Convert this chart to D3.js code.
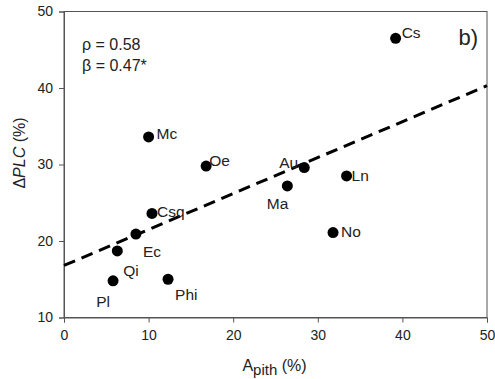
<!DOCTYPE html>
<html>
<head>
<meta charset="utf-8">
<script src="https://cdn.jsdelivr.net/npm/d3@7"></script>
<style>
    body { margin: 0; background: #fff; }
    text { font-family: "Liberation Sans", Arial, sans-serif; fill: #222; }
</style>
</head>
<body>
<div id="chart"></div>
<script>
// species codes and their values
var species = ["Cs", "Mc", "Oe", "Au", "Ma", "Ln", "No", "Csq", "Ec", "Qi", "Pl", "Phi"];
var apith = [39.2, 10.0, 16.8, 28.4, 26.4, 33.4, 31.8, 10.4, 8.5, 6.3, 5.8, 12.3];
var dplc = [46.5, 33.6, 29.8, 29.6, 27.2, 28.5, 21.1, 23.6, 20.9, 18.7, 14.8, 15.0];

var xTicks = [0, 10, 20, 30, 40, 50];
var yTicks = [10, 20, 30, 40, 50];

// regression line
var intercept = 16.8, slope = 0.47;

// where each label goes relative to its point
var labelPos = {
    Cs: [6, -6, "start"], Mc: [8, -3, "start"], Oe: [3, -5, "start"], Au: [-6, -5, "end"],
    Ma: [1, 18, "end"], Ln: [5, 0, "start"], No: [8, -1, "start"], Csq: [5, -2, "start"],
    Ec: [7, 17, "start"], Qi: [6, 20, "start"], Pl: [-3, 21, "end"], Phi: [7, 15, "start"]
};

var margin = { top: 11.5, right: 8, bottom: 61.5, left: 64 },
    width = 495 - margin.left - margin.right,
    height = 379 - margin.top - margin.bottom;

var svg = d3.select("#chart").append("svg")
    .attr("width", 495)
    .attr("height", 379)
    .append("g")
    .attr("transform", "translate(" + margin.left + "," + margin.top + ")");

var x = d3.scaleLinear().domain([0, 50]).range([0, width]);
var y = d3.scaleLinear().domain([10, 50]).range([height, 0]);

// box
svg.append("rect")
    .attr("width", width)
    .attr("height", height)
    .attr("fill", "none")
    .attr("stroke", "#555")
    .attr("stroke-width", 1);

var xAxis = svg.append("g")
    .attr("transform", "translate(0," + height + ")")
    .call(d3.axisBottom(x).tickValues(xTicks).tickSize(5).tickPadding(8));

var yAxis = svg.append("g")
    .call(d3.axisLeft(y).tickValues(yTicks).tickSize(5).tickPadding(6));

[xAxis, yAxis].forEach(function (a) {
    a.selectAll("path, line").attr("stroke", "#555");
    a.selectAll("text").attr("font-size", 14).attr("fill", "#222")
        .attr("font-family", "Liberation Sans, Arial, sans-serif");
});

// regression line
svg.append("line")
    .attr("x1", x(0)).attr("y1", y(intercept))
    .attr("x2", x(50)).attr("y2", y(intercept + slope * 50))
    .attr("stroke", "#000")
    .attr("stroke-width", 3)
    .attr("stroke-dasharray", "12,7");

var data = species.map(function (s, i) { return { name: s, x: apith[i], y: dplc[i] }; });

svg.selectAll("circle.pt")
    .data(data)
    .enter().append("circle")
    .attr("class", "pt")
    .attr("cx", function (d) { return x(d.x); })
    .attr("cy", function (d) { return y(d.y); })
    .attr("r", 5.5)
    .attr("fill", "#000");

svg.selectAll("text.lbl")
    .data(data)
    .enter().append("text")
    .attr("class", "lbl")
    .attr("x", function (d) { return x(d.x) + labelPos[d.name][0]; })
    .attr("y", function (d) { return y(d.y) + labelPos[d.name][1]; })
    .attr("dy", "0.35em")
    .attr("text-anchor", function (d) { return labelPos[d.name][2]; })
    .attr("font-size", 15.5)
    .text(function (d) { return d.name; });

// stats
svg.append("text").attr("x", 18).attr("y", 38).attr("font-size", 16).text("ρ = 0.58");
svg.append("text").attr("x", 18).attr("y", 59).attr("font-size", 16).text("β = 0.47*");

svg.append("text")
    .attr("x", width - 9).attr("y", 33)
    .attr("text-anchor", "end")
    .attr("font-size", 22)
    .text("b)");

// axis titles
var xt = svg.append("text")
    .attr("x", width / 2 - 1)
    .attr("y", height + 53)
    .attr("text-anchor", "middle")
    .attr("font-size", 16);
xt.append("tspan").text("A");
xt.append("tspan").attr("font-size", 15).attr("dy", 4).text("pith");
xt.append("tspan").attr("dy", -4).text(" (%)");

var yt = svg.append("text")
    .attr("transform", "translate(-39," + (153 - margin.top) + ") rotate(-90)")
    .attr("text-anchor", "middle")
    .attr("font-size", 16);
yt.append("tspan").text("Δ");
yt.append("tspan").attr("font-style", "italic").text("PLC");
yt.append("tspan").text(" (%)");
</script>
</body>
</html>
